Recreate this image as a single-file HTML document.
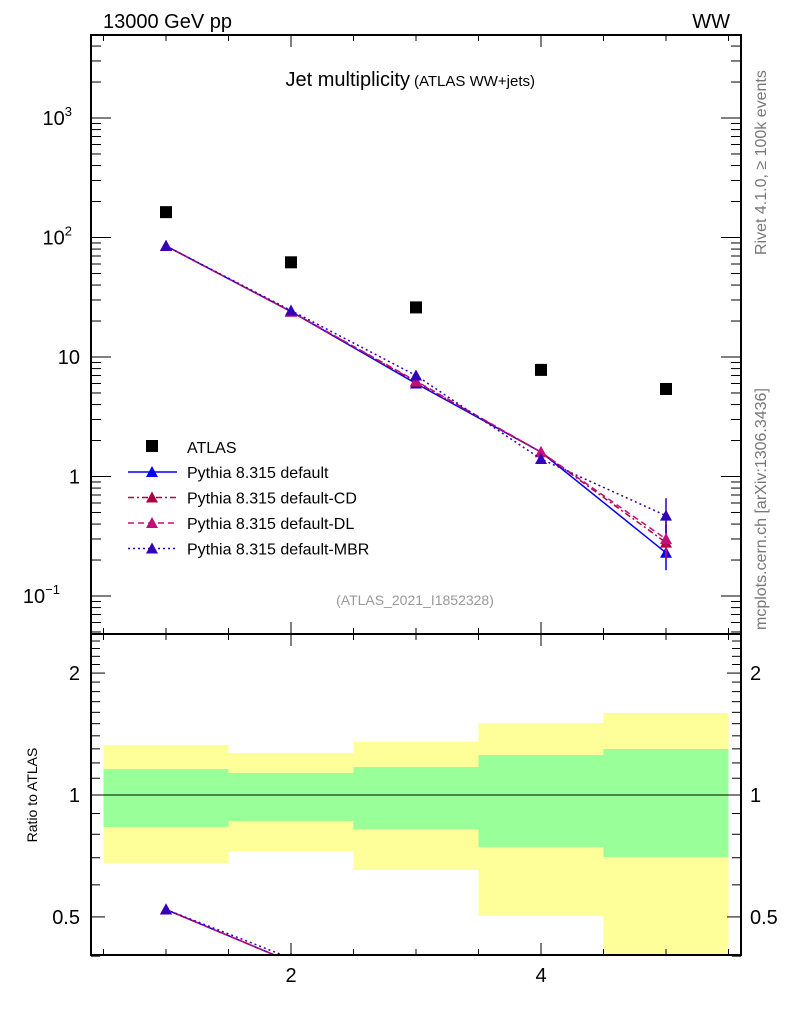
<!DOCTYPE html>
<html><head><meta charset="utf-8"><style>
html,body{margin:0;padding:0;background:#fff;width:786px;height:1024px;overflow:hidden;}
svg{display:block;font-family:"Liberation Sans",sans-serif;}
</style></head><body>
<svg id="c" width="786" height="1024" viewBox="0 0 786 1024" xmlns="http://www.w3.org/2000/svg">
<text x="103" y="28" font-size="20">13000 GeV pp</text>
<text x="730" y="28" font-size="20" text-anchor="end">WW</text>
<text x="410" y="86" font-size="20" text-anchor="end">Jet multiplicity</text>
<text x="414" y="86" font-size="15">(ATLAS WW+jets)</text>
<text x="415" y="605" font-size="14" fill="#999" text-anchor="middle">(ATLAS_2021_I1852328)</text>
<text transform="translate(766,255) rotate(-90)" font-size="16" fill="#777">Rivet 4.1.0, ≥ 100k events</text>
<text transform="translate(766,630) rotate(-90)" font-size="16" fill="#777">mcplots.cern.ch [arXiv:1306.3436]</text>
<text transform="translate(37,795) rotate(-90)" font-size="14" text-anchor="middle">Ratio to ATLAS</text>
<g id="g"></g>
</svg>
<script>
const xs=[1,2,3,4,5];
const atlas=[163,62,26,7.8,5.4];
const pyDefault=[85,24,6.0,1.6,0.23];
const pyCD=[85,24,6.2,1.6,0.28];
const pyDL=[85,24,6.3,1.6,0.30];
const pyMBR=[85,24.5,7.0,1.4,0.47];
const bandYelLo=[0.679,0.727,0.653,0.503,0.30];
const bandYelHi=[1.329,1.270,1.352,1.506,1.594];
const bandGrnLo=[0.834,0.863,0.824,0.744,0.703];
const bandGrnHi=[1.159,1.133,1.172,1.255,1.299];
const xTicks=[2,4];
const NS="http://www.w3.org/2000/svg";
const L=91,R=741,T=35,MB=634,RB=955;
const X=v=>L+(v-0.4)/5.2*(R-L);
const Y=v=>118-(Math.log10(v)-3)*119.5;
const RY=v=>795-Math.log10(v)*405;
const g=document.getElementById('g');
function el(tag,a,name,parent){const e=document.createElementNS(NS,tag);for(const k in a)e.setAttribute(k,a[k]);


(parent||g).appendChild(e);return e;}
const defs=el('defs',{},'defs');
const cp=el('clipPath',{id:'rc'},'ratio-clip',defs);el('rect',{x:L,y:635,width:R-L,height:RB-635},'ratio-clip-rect',cp);
const cm=el('clipPath',{id:'mc'},'main-clip',defs);el('rect',{x:L,y:T,width:R-L,height:MB-T},'main-clip-rect',cm);
xs.forEach((x,i)=>{
 el('rect',{x:X(x-0.5),y:RY(bandYelHi[i]),width:X(x+0.5)-X(x-0.5),height:Math.min(RB,RY(bandYelLo[i]))-RY(bandYelHi[i]),fill:'#ffff99','clip-path':'url(#rc)'},'band-yellow-'+x);
 el('rect',{x:X(x-0.5),y:RY(bandGrnHi[i]),width:X(x+0.5)-X(x-0.5),height:RY(bandGrnLo[i])-RY(bandGrnHi[i]),fill:'#99ff99'},'band-green-'+x);
});
el('line',{x1:L,x2:R,y1:RY(1),y2:RY(1),stroke:'#000','stroke-width':1},'ratio-unity-line');
const series=[
 {d:pyDefault,c:'#0000ff',dash:'',n:'Pythia 8.315 default',id:'default'},
 {d:pyCD,c:'#b00040',dash:'6,3,2,3',n:'Pythia 8.315 default-CD',id:'cd'},
 {d:pyDL,c:'#c0107a',dash:'6,4',n:'Pythia 8.315 default-DL',id:'dl'},
 {d:pyMBR,c:'#3300bb',dash:'2,3',n:'Pythia 8.315 default-MBR',id:'mbr'}];
function tri(cx,cy,c,name,parent){el('path',{d:`M${cx},${cy-6}L${cx+6},${cy+5}L${cx-6},${cy+5}Z`,fill:c},name,parent);}
series.forEach(s=>{
 const mg=el('g',{'clip-path':'url(#mc)'},'series-'+s.id);
 el('polyline',{points:xs.map((x,i)=>X(x)+','+Y(s.d[i])).join(' '),fill:'none',stroke:s.c,'stroke-width':1.5,'stroke-dasharray':s.dash},'line-'+s.id,mg);
 xs.forEach((x,i)=>{
  if(i==4){el('line',{x1:X(x),x2:X(x),y1:Y(s.d[i]*1.4),y2:Y(s.d[i]/1.4),stroke:s.c,'stroke-width':1.5},'errbar-'+s.id,mg);}
  tri(X(x),Y(s.d[i]),s.c,'point-'+s.id+'-'+x,mg);});
 const rg=el('g',{'clip-path':'url(#rc)'},'ratio-series-'+s.id);
 el('polyline',{points:xs.map((x,i)=>X(x)+','+RY(s.d[i]/atlas[i])).join(' '),fill:'none',stroke:s.c,'stroke-width':1.5,'stroke-dasharray':s.dash},'ratio-line-'+s.id,rg);
 xs.forEach((x,i)=>tri(X(x),RY(s.d[i]/atlas[i]),s.c,'ratio-point-'+s.id+'-'+x,rg));
});
xs.forEach((x,i)=>el('rect',{x:X(x)-6,y:Y(atlas[i])-6,width:12,height:12,fill:'#000'},'atlas-point-'+x));
el('rect',{x:146,y:440,width:12,height:12,fill:'#000'},'legend-atlas-marker');
el('text',{x:187,y:453,'font-size':16},'legend-atlas-label').textContent='ATLAS';
series.forEach((s,i)=>{const y=472+i*25.5;
 el('line',{x1:128,x2:177,y1:y,y2:y,stroke:s.c,'stroke-width':1.5,'stroke-dasharray':s.dash},'legend-line-'+s.id);
 tri(152,y,s.c,'legend-marker-'+s.id);
 el('text',{x:187,y:y+6,'font-size':16},'legend-label-'+s.id).textContent=s.n;});
el('rect',{x:L,y:T,width:R-L,height:MB-T,fill:'none',stroke:'#000','stroke-width':2},'main-frame');
el('rect',{x:L,y:MB,width:R-L,height:RB-MB,fill:'none',stroke:'#000','stroke-width':2},'ratio-frame');
for(let v=0.5;v<=5.5;v+=0.5){const maj=(v%2==0);const len=maj?12:6;
 [T,MB].forEach(y0=>el('line',{x1:X(v),x2:X(v),y1:y0,y2:y0+len,stroke:'#000'},'x-tick'));
 [MB,RB].forEach(y0=>el('line',{x1:X(v),x2:X(v),y1:y0,y2:y0-len,stroke:'#000'},'x-tick'));}
xTicks.forEach(v=>el('text',{x:X(v),y:982,'font-size':20,'text-anchor':'middle'},'x-tick-label').textContent=v);
for(let e=-2;e<=3;e++)for(let m=1;m<10;m++){const v=m*Math.pow(10,e);const y=Y(v);if(y<T||y>MB)continue;const len=m==1?20:10;
 el('line',{x1:L,x2:L+len,y1:y,y2:y,stroke:'#000'},'y-tick');el('line',{x1:R,x2:R-len,y1:y,y2:y,stroke:'#000'},'y-tick');}
const yl=[[1000,'10','3'],[100,'10','2'],[10,'10',''],[1,'1',''],[0.1,'10','−1']];
yl.forEach(([v,b,s])=>{const t=el('text',{x:s?72:80,y:Y(v)+7,'font-size':20,'text-anchor':'end'},'y-tick-label');t.textContent=b;
 if(s){const ts=el('tspan',{dy:-9,'font-size':13},'y-tick-exp',t);ts.textContent=s;t.setAttribute('x',s.length>1?60:72);}});
for(let v=0.4;v<=2.45;v+=0.1){const y=RY(v);const maj=Math.abs(v-0.5)<1e-6||Math.abs(v-1)<1e-6||Math.abs(v-2)<1e-6;const len=maj?14:9;
 el('line',{x1:L,x2:L+len,y1:y,y2:y,stroke:'#000'},'ratio-y-tick');el('line',{x1:R,x2:R-len,y1:y,y2:y,stroke:'#000'},'ratio-y-tick');}
[[2,'2'],[1,'1'],[0.5,'0.5']].forEach(([v,s])=>{
 el('text',{x:80,y:RY(v)+7,'font-size':20,'text-anchor':'end'},'ratio-y-tick-label').textContent=s;
 el('text',{x:750,y:RY(v)+7,'font-size':20},'ratio-y-tick-label-right').textContent=s;});
</script>
</body></html>
